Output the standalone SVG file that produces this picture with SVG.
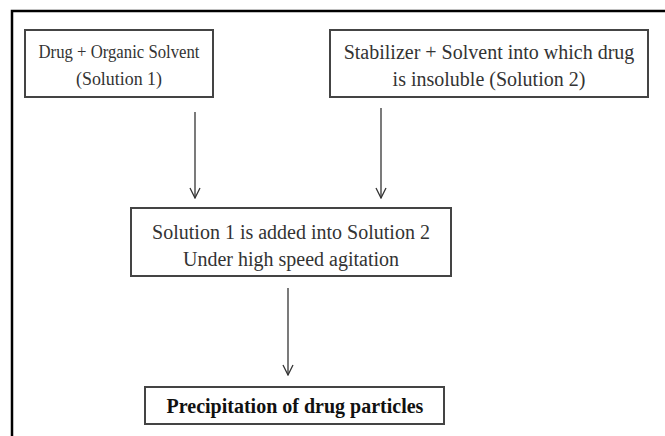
<svg xmlns="http://www.w3.org/2000/svg" width="665" height="436" viewBox="0 0 665 436">
<defs>
<marker id="ah" viewBox="0 0 12 12" refX="11" refY="6" markerWidth="12" markerHeight="12" markerUnits="userSpaceOnUse" orient="auto">
<path d="M1,1 L11,6 L1,11" fill="none" stroke="#333" stroke-width="1.3"/>
</marker>
<style>
.box{fill:#fff;stroke:#444;stroke-width:2}
.t{font-family:"Liberation Serif","Times New Roman",serif;font-size:20px;fill:#333;text-anchor:middle}
.s{font-size:19px}
.b{font-weight:bold;fill:#111}
.c{stroke:#333;stroke-width:1.3;fill:none;marker-end:url(#ah)}
</style>
</defs>
<rect width="665" height="436" fill="#fff"/>
<path d="M12,440 L12,11 L670,11" fill="none" stroke="#000" stroke-width="2.5"/>
<g id="n1">
<rect class="box" x="25" y="30" width="188" height="67"/>
<text class="t s" x="119" y="58" textLength="161" lengthAdjust="spacingAndGlyphs">Drug + Organic Solvent</text>
<text class="t s" x="119" y="85" textLength="86" lengthAdjust="spacingAndGlyphs">(Solution 1)</text>
</g>
<g id="n2">
<rect class="box" x="330" y="30" width="318" height="67"/>
<text class="t" x="489" y="59">Stabilizer + Solvent into which drug</text>
<text class="t" x="489" y="86">is insoluble (Solution 2)</text>
</g>
<g id="n3">
<rect class="box" x="131" y="208" width="320" height="68"/>
<text class="t" x="291" y="239">Solution 1 is added into Solution 2</text>
<text class="t" x="291" y="266">Under high speed agitation</text>
</g>
<g id="n4">
<rect class="box" x="145" y="387" width="299" height="37"/>
<text class="t b" x="295" y="413">Precipitation of drug particles</text>
</g>
<g id="connectors">
<line class="c" x1="195" y1="112" x2="195" y2="198"/>
<line class="c" x1="381" y1="108" x2="381" y2="198"/>
<line class="c" x1="288" y1="288" x2="288" y2="375"/>
</g>
</svg>
